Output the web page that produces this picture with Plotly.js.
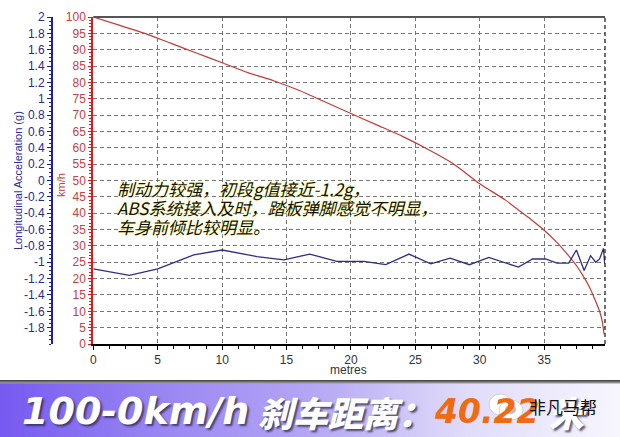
<!DOCTYPE html>
<html>
<head>
<meta charset="utf-8">
<script src="https://cdn.plot.ly/plotly-3.0.1.min.js"></script>
<style>
html,body{margin:0;padding:0;background:#fff;}
#wrap{position:relative;width:620px;height:437px;overflow:hidden;}
#banner{position:absolute;left:0;top:380px;width:620px;height:57px;
background:linear-gradient(to bottom,#3a3a3a 0px,#9a9a9a 3px,rgba(0,0,0,0) 4px),
linear-gradient(to right,#765af0 0%,#9884f2 25%,#b4a6f4 50%,#e0dbfa 75%,#f7f6fe 100%);}
#chart{position:absolute;left:0;top:0;width:620px;height:437px;}
</style>
</head>
<body>
<div id="wrap"><div id="banner"></div><div id="chart"></div></div>
<script>
// Speed curve (km/h vs metres)
const speedDist = [0,2,4,6,8,10,12,14,16,18,20,22,24,26,28,30,32,33,34,35,36,37,37.5,38,38.5,39,39.3,39.5,39.65];
const speedKmh  = [100,97.5,95,92,89,86,83,80.5,77.5,74,70.5,67,63.5,59.5,55,49,44,41,38,34.8,31,26.5,24,21,17.5,13,10,7,3];
// Longitudinal acceleration (g vs metres)
const accDist = [0,2.8,5,7.8,10,12.7,14.8,16.8,18.9,21,22.7,24.5,26.2,27.7,29.2,30.7,33,34.1,35.1,36,36.9,37.5,38.1,38.6,39.0,39.3,39.6,39.7];
const accG    = [-1.08,-1.16,-1.08,-0.91,-0.85,-0.93,-0.97,-0.90,-0.99,-0.99,-1.03,-0.90,-1.02,-0.95,-1.03,-0.94,-1.06,-0.96,-0.96,-1.01,-1.01,-0.85,-1.10,-0.92,-1.0,-0.96,-0.83,-1.02];
// Tick labels
const gTicks = [-1.8,-1.6,-1.4,-1.2,-1,-0.8,-0.6,-0.4,-0.2,0,0.2,0.4,0.6,0.8,1,1.2,1.4,1.6,1.8,2];
const kmhTicks = [0,5,10,15,20,25,30,35,40,45,50,55,60,65,70,75,80,85,90,95,100];
const xTicks = [0,5,10,15,20,25,30,35];
const noteLines = ["制动力较强，初段g值接近-1.2g，","ABS系统接入及时，踏板弹脚感觉不明显，","车身前倾比较明显。"];
const bannerParts = ["100-0km/h","刹车距离：","40.22","米"];
const watermark = "非凡马帮";

const W=620,H=437,ML=10,MR=15,MT=17,MB=93;
const PW=W-ML-MR, PH=H-MT-MB;
const px=x=>(x-ML)/PW, py=y=>(H-MB-y)/PH;

const traces=[
 {x:accDist,y:accG,yaxis:'y2',mode:'lines',line:{color:'#2e2e86',width:1.3},hoverinfo:'skip'},
 {x:speedDist,y:speedKmh,yaxis:'y',mode:'lines',line:{color:'#c23b36',width:1.2,shape:'spline',smoothing:0.6},hoverinfo:'skip'}
];

const axFont={family:'Liberation Sans, Arial, sans-serif',size:12};
const layout={
 width:W,height:H,margin:{l:ML,r:MR,t:MT,b:MB},
 paper_bgcolor:'rgba(0,0,0,0)',plot_bgcolor:'#ffffff',showlegend:false,
 xaxis:{domain:[px(93.3),1],range:[0,39.72],tickvals:xTicks,ticktext:xTicks.map(String),
   showgrid:true,gridcolor:'#777',griddash:'4px,3px',gridwidth:1,zeroline:false,
   showline:true,linecolor:'#000',linewidth:2,ticks:'outside',ticklen:4,tickcolor:'#000',
   minor:{dtick:1.25,tick0:0,ticks:'outside',ticklen:3,tickcolor:'#000',showgrid:false},
   tickfont:Object.assign({color:'#333'},axFont),fixedrange:true},
 yaxis:{range:[0,100],tickvals:kmhTicks,ticktext:kmhTicks.map(String),
   showgrid:true,gridcolor:'#777',griddash:'4px,3px',gridwidth:1,zeroline:false,
   showline:true,linecolor:'#e01818',linewidth:2,ticks:'outside',ticklen:3,tickcolor:'#e01818',
   minor:{dtick:1,ticks:'outside',ticklen:2,tickcolor:'#e01818',showgrid:false},
   tickfont:Object.assign({color:'#c84040'},axFont),fixedrange:true},
 yaxis2:{overlaying:'y',anchor:'free',position:px(52),side:'left',range:[-2,2],
   tickvals:gTicks,ticktext:gTicks.map(String),showgrid:false,zeroline:false,
   showline:true,linecolor:'#1c1cb0',linewidth:2,ticks:'outside',ticklen:4,tickcolor:'#1c1cb0',
   minor:{dtick:0.05,ticks:'outside',ticklen:2,tickcolor:'#1c1cb0',showgrid:false},
   tickfont:Object.assign({color:'#2a2a8c'},axFont),fixedrange:true},
 shapes:[
  {type:'line',xref:'x domain',yref:'y domain',x0:0,x1:1,y0:1,y1:1,line:{color:'#555',width:2}},
  {type:'line',xref:'x domain',yref:'y domain',x0:1,x1:1,y0:0,y1:1,line:{color:'#111',width:1.2,dash:'4px,3px'}},
  {type:'circle',xref:'paper',yref:'paper',x0:px(489),x1:px(512),y0:py(415),y1:py(394),fillcolor:'#ffffff',line:{color:'#cfcfcf',width:1}},
  {type:'circle',xref:'paper',yref:'paper',x0:px(499),x1:px(523),y0:py(420),y1:py(400),fillcolor:'#ffffff',line:{color:'#cfcfcf',width:1}},
  {type:'circle',xref:'paper',yref:'paper',x0:px(505),x1:px(516),y0:py(414),y1:py(405),fillcolor:'#bdbdbd',line:{width:0}}
 ],
 annotations:[]
};
const A=layout.annotations;
function ann(text,x,y,font,extra){
  A.push(Object.assign({text:text,xref:'paper',yref:'paper',x:px(x),y:py(y),xanchor:'center',yanchor:'middle',showarrow:false,font:font},extra||{}));
}
ann('Longitudinal Acceleration (g)',18,181,{family:'Liberation Sans, Arial, sans-serif',size:11,color:'#2a2a9c'},{textangle:-90});
ann('km/h',61,185,{family:'Liberation Sans, Arial, sans-serif',size:11,color:'#c84040'},{textangle:-90});
ann('metres',348,370,{family:'Liberation Sans, Arial, sans-serif',size:12,color:'#333'});
const noteY=[188,207,226.5];
noteLines.forEach((t,i)=>ann(t,115,noteY[i],
  {family:'Noto Sans CJK SC, sans-serif',size:17,color:'#111',style:'italic',shadow:'0 0 3px #ffff9a, 0 0 3px #ffffb0'},
  {xanchor:'left'}));
const bShadow='2px 2px 2px rgba(40,40,70,0.75)';
ann(bannerParts[0],20,411,{family:'DejaVu Sans, sans-serif',size:38,color:'#ffffff',weight:'bold',style:'italic',shadow:bShadow},{xanchor:'left'});
ann(bannerParts[1],256,411,{family:'Noto Sans CJK SC, sans-serif',size:35,color:'#ffffff',weight:900,style:'italic',shadow:bShadow},{xanchor:'left'});
ann(bannerParts[2],432,411,{family:'DejaVu Sans, sans-serif',size:33,color:'#f06a12',weight:'bold',style:'italic'},{xanchor:'left'});
ann(bannerParts[3],547,411,{family:'Noto Sans CJK SC, sans-serif',size:35,color:'#ffffff',weight:900,style:'italic',shadow:bShadow},{xanchor:'left'});
ann(watermark,527,406,{family:'Noto Sans CJK SC, sans-serif',size:17,color:'#111'},{xanchor:'left'});

Plotly.newPlot('chart',traces,layout,{staticPlot:true,displayModeBar:false});
</script>
</body>
</html>
